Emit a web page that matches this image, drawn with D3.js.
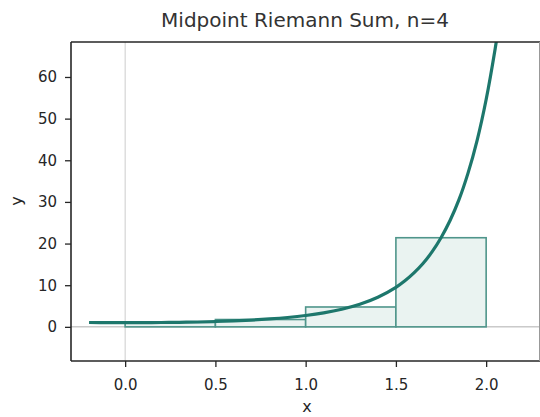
<!DOCTYPE html>
<html>
<head>
<meta charset="utf-8">
<script src="https://cdn.jsdelivr.net/npm/d3@7"></script>
<style>
  body { margin: 0; background: #fff; }
  text { font-family: "DejaVu Sans", sans-serif; }
</style>
</head>
<body>
<svg width="540" height="417"></svg>
<script>
// curve samples
var curveX = [-0.2, -0.1, 0, 0.1, 0.2, 0.3, 0.4, 0.5, 0.6, 0.7, 0.8, 0.9, 1.0, 1.1, 1.2, 1.3, 1.4, 1.5, 1.55, 1.6, 1.65, 1.7, 1.75, 1.8, 1.85, 1.9, 1.95, 2.0, 2.05, 2.08];
var curveY = [1.04, 1.01, 1.0, 1.01, 1.04, 1.09, 1.17, 1.28, 1.43, 1.63, 1.9, 2.25, 2.72, 3.35, 4.22, 5.42, 7.1, 9.49, 11.05, 12.94, 15.2, 17.99, 21.4, 25.53, 30.6, 36.97, 44.8, 54.6, 66.8, 75.3];
// midpoint rectangles
var rectLeft = [0, 0.5, 1.0, 1.5];
var rectWidth = 0.5;
var rectHeight = [1.06, 1.76, 4.77, 21.4];
var xTicks = [0.0, 0.5, 1.0, 1.5, 2.0];
var yTicks = [0, 10, 20, 30, 40, 50, 60];

var margin = {top: 42, left: 71, right: 0, bottom: 56};
var width = 540, height = 417;
var svg = d3.select('svg');

var xScale = d3.scaleLinear().domain([-0.3, 2.3]).range([margin.left, 540.3]);
var yScale = d3.scaleLinear().domain([-8.2, 68.4]).range([height - margin.bottom, margin.top]);

svg.append('clipPath').attr('id', 'plot')
  .append('rect')
  .attr('x', margin.left).attr('y', margin.top)
  .attr('width', width - margin.left).attr('height', height - margin.bottom - margin.top);

var g = svg.append('g').attr('clip-path', 'url(#plot)');

// reference lines
g.append('line')
  .attr('x1', xScale(0)).attr('x2', xScale(0))
  .attr('y1', margin.top).attr('y2', height - margin.bottom)
  .attr('stroke', '#cccccc').attr('stroke-width', 1);
g.append('line')
  .attr('x1', margin.left).attr('x2', width)
  .attr('y1', yScale(0)).attr('y2', yScale(0))
  .attr('stroke', '#999999').attr('stroke-width', 0.8);

g.selectAll('rect.bar')
  .data(rectLeft)
  .enter().append('rect')
  .attr('class', 'bar')
  .attr('x', d => xScale(d))
  .attr('y', (d, i) => yScale(rectHeight[i]))
  .attr('width', d => xScale(d + rectWidth) - xScale(d))
  .attr('height', (d, i) => yScale(0) - yScale(rectHeight[i]))
  .attr('fill', '#eaf3f1')
  .attr('stroke', '#4f958b')
  .attr('stroke-width', 1.6);

var line = d3.line()
  .x((d, i) => xScale(curveX[i]))
  .y(d => yScale(d))
  .curve(d3.curveCatmullRom);

g.append('path')
  .attr('d', line(curveY))
  .attr('fill', 'none')
  .attr('stroke', '#1d776c')
  .attr('stroke-width', 3.2);

// axes
var xAxis = d3.axisBottom(xScale).tickValues(xTicks).tickFormat(d3.format('.1f')).tickSize(6).tickPadding(12);
var yAxis = d3.axisLeft(yScale).tickValues(yTicks).tickSize(6).tickPadding(8);

var xg = svg.append('g')
  .attr('transform', `translate(0, ${height - margin.bottom})`)
  .call(xAxis);
var yg = svg.append('g')
  .attr('transform', `translate(${margin.left}, 0)`)
  .call(yAxis);
[xg, yg].forEach(a => {
  a.select('.domain').remove();
  a.selectAll('line').attr('stroke', '#262626').attr('stroke-width', 1.3);
  a.selectAll('text').attr('fill', '#262626').style('font-size', '15px');
});

// spines
svg.append('line').attr('x1', margin.left).attr('x2', margin.left)
  .attr('y1', margin.top).attr('y2', height - margin.bottom)
  .attr('stroke', '#262626').attr('stroke-width', 1.6);
svg.append('line').attr('x1', margin.left).attr('x2', width)
  .attr('y1', height - margin.bottom).attr('y2', height - margin.bottom)
  .attr('stroke', '#262626').attr('stroke-width', 1.6);
svg.append('line').attr('x1', margin.left).attr('x2', width)
  .attr('y1', margin.top).attr('y2', margin.top)
  .attr('stroke', '#262626').attr('stroke-width', 1.6);
svg.append('line').attr('x1', 539.5).attr('x2', 539.5)
  .attr('y1', margin.top).attr('y2', height - margin.bottom)
  .attr('stroke', '#999999').attr('stroke-width', 1);

// labels
svg.append('text')
  .attr('x', 305).attr('y', 27)
  .attr('text-anchor', 'middle')
  .attr('fill', '#333333')
  .style('font-size', '20px')
  .text('Midpoint Riemann Sum, n=4');
svg.append('text')
  .attr('x', 307).attr('y', 412)
  .attr('text-anchor', 'middle')
  .attr('fill', '#262626')
  .style('font-size', '16px')
  .text('x');
svg.append('text')
  .attr('transform', 'translate(22, 201) rotate(-90)')
  .attr('text-anchor', 'middle')
  .attr('fill', '#262626')
  .style('font-size', '16px')
  .text('y');
</script>
</body>
</html>
